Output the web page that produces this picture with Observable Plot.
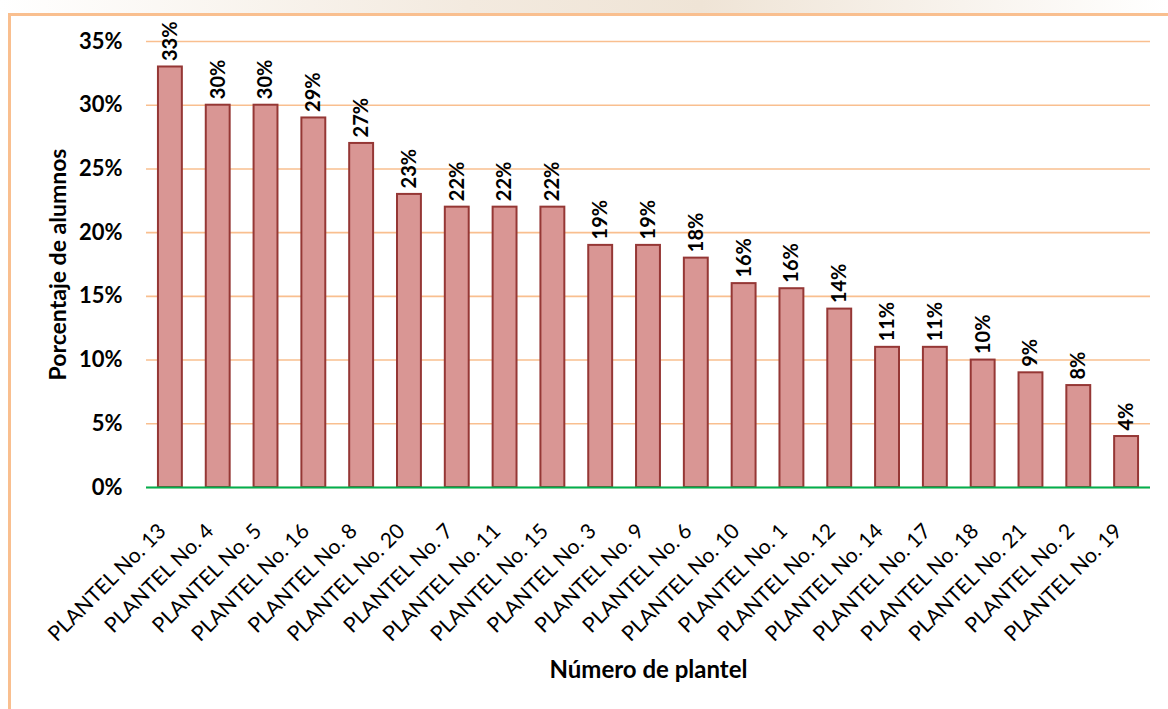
<!DOCTYPE html>
<html>
<head>
<meta charset="utf-8">
<script src="https://cdn.jsdelivr.net/npm/d3@7"></script>
<script src="https://cdn.jsdelivr.net/npm/@observablehq/plot@0.6"></script>
<style>
  html, body { margin: 0; padding: 0; background: #fff; width: 1168px; height: 709px; overflow: hidden; }
  #frame { position: absolute; left: 8px; top: 13px; width: 1200px; height: 800px;
           border-left: 3px solid #F9BF8F; border-top: 3px solid #F9BF8F; background: #fff; }
  #wm { position: absolute; left: 0; top: 0; width: 1168px; height: 13px; background: linear-gradient(90deg, #fff 0%, #F3EADF 40%, #EFE4D6 60%, #fff 100%); }
  #chart { position: absolute; left: 0; top: 0; }
  svg { font-family: Lato, "Open Sans", sans-serif; }
</style>
</head>
<body>
<div id="wm"></div>
<div id="frame"></div>
<div id="chart"></div>
<script>
const planteles = ["PLANTEL No. 13","PLANTEL No. 4","PLANTEL No. 5","PLANTEL No. 16","PLANTEL No. 8","PLANTEL No. 20","PLANTEL No. 7","PLANTEL No. 11","PLANTEL No. 15","PLANTEL No. 3","PLANTEL No. 9","PLANTEL No. 6","PLANTEL No. 10","PLANTEL No. 1","PLANTEL No. 12","PLANTEL No. 14","PLANTEL No. 17","PLANTEL No. 18","PLANTEL No. 21","PLANTEL No. 2","PLANTEL No. 19"];
const porcentajes = [33, 30, 30, 29, 27, 23, 22, 22, 22, 19, 19, 18, 16, 15.6, 14, 11, 11, 10, 9, 8, 4];
const yTicks = [0, 5, 10, 15, 20, 25, 30, 35];
const yTitle = "Porcentaje de alumnos";
const xTitle = "Número de plantel";

const data = planteles.map((p, i) => ({plantel: p, valor: porcentajes[i]}));

const chart = Plot.plot({
  width: 1168,
  height: 709,
  marginLeft: 146,
  marginRight: 18,
  marginTop: 41,
  marginBottom: 222,
  style: {background: "transparent", fontFamily: "Lato, 'Open Sans', sans-serif", overflow: "visible"},
  x: {domain: planteles, paddingInner: 0.5, paddingOuter: 0.25, round: false, label: null},
  y: {domain: [0, 35], label: null},
  marks: [
    Plot.gridY(yTicks, {stroke: "#F9BF8F", strokeOpacity: 1, strokeWidth: 1.6}),
    Plot.barY(data, {x: "plantel", y: "valor", fill: "#D99694", stroke: "#953735", strokeWidth: 2,
      style: "filter: drop-shadow(3px 2px 2px rgba(0,0,0,0.25))"}),
    Plot.ruleY([0], {stroke: "#00B050", strokeWidth: 2.2}),
    Plot.text(data, {x: "plantel", y: "valor", text: d => Math.round(d.valor) + "%", rotate: -90,
      textAnchor: "start", lineAnchor: "middle", dy: -6, fontSize: 20, fontWeight: "bold", fill: "#000"}),
    Plot.axisY(yTicks, {tickSize: 0, tickPadding: 24, tickFormat: d => d + "%", fontSize: 22, fontWeight: "bold", fill: "#000", label: null}),
    Plot.axisX({tickSize: 0, tickPadding: 40, tickRotate: -45, dx: -8, fontSize: 21, fill: "#000", label: null}),
    Plot.text([yTitle], {frameAnchor: "left", textAnchor: "middle", dx: -88, rotate: -90, fontSize: 23, fontWeight: "bold", fill: "#000"}),
    Plot.text([xTitle], {frameAnchor: "bottom", dy: 190, fontSize: 24, fontWeight: "bold", fill: "#000"})
  ]
});
document.getElementById("chart").appendChild(chart);
</script>
</body>
</html>
